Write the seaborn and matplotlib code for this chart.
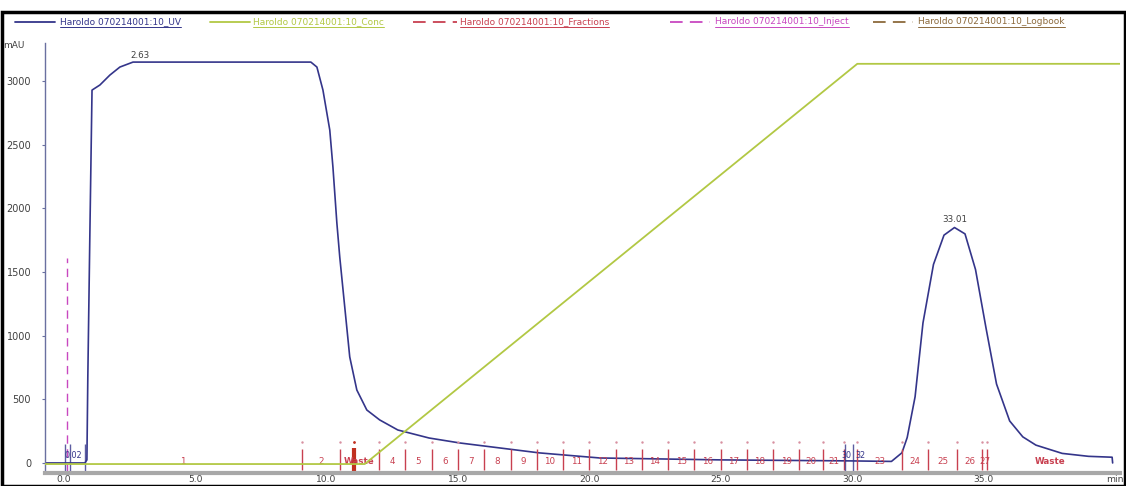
import numpy as np
import pandas as pd
import matplotlib
matplotlib.use("Agg")
import matplotlib.pyplot as plt
from matplotlib.lines import Line2D
from matplotlib.patches import Rectangle
import seaborn as sns

# ---------------- data ----------------
uv_time = [-0.75, 0.80, 0.875, 0.91, 0.99, 1.07, 1.37, 1.75, 2.13, 2.63, 3.0,
           9.40, 9.63, 9.86, 10.12, 10.24, 10.39, 10.5, 10.69, 10.88, 11.15,
           11.53, 12.02, 12.71, 13.9, 15.07, 18.1, 20.4,
           25.0, 30.0, 31.5, 31.9, 32.1, 32.4, 32.7, 33.1, 33.5, 33.9, 34.3,
           34.7, 35.1, 35.5, 36.0, 36.5, 37.0, 38.0, 39.0, 39.9, 39.92]
uv_mau = [0, 0, 24, 676, 1830, 2930, 2970, 3048, 3111, 3150, 3150,
          3150, 3111, 2930, 2616, 2325, 1885, 1618, 1225, 833, 573,
          416, 338, 259, 196, 157, 79, 39,
          24, 16, 12, 80, 200, 520, 1100, 1560, 1790, 1850, 1800,
          1520, 1060, 620, 330, 205, 140, 75, 52, 45, 0]

conc_time = [-0.8, 11.45, 30.2, 40.2]
conc_pct = [0, 0, 100, 100]

inject_time = [0.1]
inject_top = 1610

frac_edges = [0.0, 9.05, 10.5, 12, 13, 14, 15, 16, 17, 18, 19, 20, 21, 22, 23,
              24, 25, 26, 27, 28, 28.9, 29.7, 30.2, 31.9, 32.9, 34.0, 34.95,
              35.15, 39.9]
frac_labels = ["1", "2", "Waste", "4", "5", "6", "7", "8", "9", "10", "11",
               "12", "13", "14", "15", "16", "17", "18", "19", "20", "21",
               "", "23", "24", "25", "26", "27", "Waste"]

logbook_time = [11.03]
uv_marks_time = [0.04, 0.23, 0.8, 29.75, 30.05]
uv_mark_labels = ["0.02", "30", "32"]
uv_mark_label_time = [0.35, 29.78, 30.32]

peak_labels = ["2.63", "33.01"]
peak_label_time = [2.9, 33.9]
peak_label_mau = [3170, 1880]

xtick_vals = [0, 5, 10, 15, 20, 25, 30, 35, 40]
xtick_text = ["0.0", "5.0", "10.0", "15.0", "20.0", "25.0", "30.0", "35.0", "min"]
ytick_vals = [0, 500, 1000, 1500, 2000, 2500, 3000]

legend_names = ["Haroldo 070214001:10_UV", "Haroldo 070214001:10_Conc",
                "Haroldo 070214001:10_Fractions", "Haroldo 070214001:10_Inject",
                "Haroldo 070214001:10_Logbook"]

# ---------------- style ----------------
sns.set_style("white")
plt.rcParams['font.family'] = ['DejaVu Sans']

C_UV = "#34358a"
C_CONC = "#b2c844"
C_FRAC = "#c84050"
C_INJ = "#c848c0"
C_LOG = "#8c6a3c"
C_TXT = "#404040"

W, H = 1126, 486
fig = plt.figure(figsize=(W / 100, H / 100), dpi=100)
ax = fig.add_axes([45 / W, 1 - 473 / H, (1120 - 45) / W, (473 - 43) / H])

uv_df = pd.DataFrame({"time": uv_time, "mAU": uv_mau})
sns.lineplot(data=uv_df, x="time", y="mAU", ax=ax, color=C_UV, lw=1.2,
             sort=False, estimator=None)

ax.set_xlim(-0.72, 40.2)
ax.set_ylim(-79, 3300)

# conc on twin axis
ax2 = ax.twinx()
conc_df = pd.DataFrame({"time": conc_time, "pct": conc_pct})
sns.lineplot(data=conc_df, x="time", y="pct", ax=ax2, color=C_CONC, lw=1.3,
             estimator=None, sort=False)
ax2.set_ylim(-2.24, 105.2)
ax2.set_xlim(-0.72, 40.2)
ax2.axis("off")

# injection
ax.vlines(inject_time, -60, inject_top, colors=C_INJ, linestyles=(0, (6, 4)), lw=1)

# fractions
ax.vlines(frac_edges[1:-1], -55, 110, colors=C_FRAC, lw=1)
ax.plot(frac_edges[1:-1], [165] * (len(frac_edges) - 2), ls="none", marker=".",
        ms=1.5, color="#d890a0")
for lab, a, b in zip(frac_labels, frac_edges[:-1], frac_edges[1:]):
    if lab:
        ax.text((a + b) / 2, 8, lab, color=C_FRAC, fontsize=6.3, ha="center",
                va="center", fontweight="bold" if lab == "Waste" else "normal")

# logbook
ax.vlines(logbook_time, -60, 120, colors="#c03020", lw=3)
ax.plot(logbook_time, [165], ls="none", marker=".", ms=2, color="#c03020")

# UV marks
ax.vlines(uv_marks_time, -90, 150, colors=C_UV, lw=1, alpha=0.8)
for lab, t in zip(uv_mark_labels, uv_mark_label_time):
    ax.text(t, 55, lab, color=C_UV, fontsize=5.8, ha="center", va="center")

# peak labels
for lab, t, m in zip(peak_labels, peak_label_time, peak_label_mau):
    ax.text(t, m, lab, color=C_TXT, fontsize=6.3, ha="center", va="bottom")

# axes styling
for s in ["top", "right"]:
    ax.spines[s].set_visible(False)
ax.spines["left"].set_color("#6a70a0")
ax.spines["left"].set_linewidth(1)
ax.spines["bottom"].set_color("#a8a8a8")
ax.spines["bottom"].set_linewidth(3)
ax.set_xticks(xtick_vals)
ax.set_xticklabels(xtick_text)
ax.set_yticks(ytick_vals)
ax.set_yticklabels([str(v) for v in ytick_vals])
ax.tick_params(axis="x", length=0, pad=1.5, labelsize=6.6, labelcolor=C_TXT)
ax.tick_params(axis="y", length=2, pad=8, labelsize=7, labelcolor=C_TXT, color="#6a70a0")
ax.set_xlabel("")
ax.set_ylabel("")
fig.text(3 / W, 1 - 45 / H, "mAU", fontsize=6.5, color=C_TXT, va="center", ha="left")

# legend strip
leg_colors = [C_UV, C_CONC, C_FRAC, C_INJ, C_LOG]
leg_line_x = [(15, 55), (210, 250), (413, 457), (670, 710), (873, 913)]
leg_text_x = [60, 253, 460, 715, 918]
leg_dashed = [False, False, True, True, True]
ly = 1 - 22 / H
texts = []
for name, col, (x0, x1), tx, dsh in zip(legend_names, leg_colors, leg_line_x,
                                       leg_text_x, leg_dashed):
    fig.add_artist(Line2D([x0 / W, x1 / W], [ly, ly], color=col, lw=1.3,
                          ls=(0, (7, 4)) if dsh else "-"))
    texts.append(fig.text(tx / W, ly, name, color=col, fontsize=6.5,
                          va="center", ha="left"))
fig.canvas.draw()
r = fig.canvas.get_renderer()
for t, col in zip(texts, leg_colors):
    bb = t.get_window_extent(r)
    yb = (bb.y0 - 0.5) / H
    fig.add_artist(Line2D([bb.x0 / W, bb.x1 / W], [yb, yb], color=col, lw=0.7))

# frame border
fig.add_artist(Rectangle((1.5 / W, 0), (W - 3) / W, (H - 12) / H,
                         transform=fig.transFigure, fill=False,
                         edgecolor="black", lw=2.5))

fig.savefig("out.png", dpi=100)
